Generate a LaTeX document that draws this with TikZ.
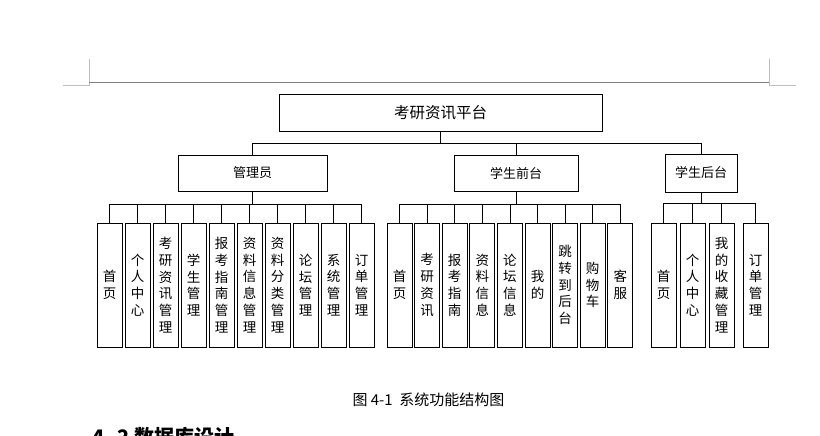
\documentclass[tikz,border=0pt]{standalone}
\usepackage{fontspec}
\setmainfont{Liberation Sans}
\newfontfamily\cjk{Noto Sans CJK SC}

\begin{document}
\begin{tikzpicture}[x=1pt,y=-1pt,
  box/.style={draw,line width=0.8pt,inner sep=0pt,font=\cjk\fontsize{13}{15}\selectfont},
  leaf/.style={draw,line width=0.8pt,minimum width=25pt,minimum height=124pt,
    inner sep=0pt,align=center,font=\cjk\fontsize{13.5}{16.7}\selectfont},
  link/.style={line width=0.8pt}]
  \useasboundingbox (0,0) rectangle (820,436);
  \clip (0,0) rectangle (820,436);

  % page header line and corner marks
  \draw[gray!50,line width=0.6pt] (63,85) -- (89,85) -- (89,59);
  \draw[gray!50,line width=0.6pt] (769,59) -- (769,85) -- (796,85);
  \draw[gray,line width=0.8pt] (89,82) -- (769,82);

  % top levels
  \node[box,minimum width=323pt,minimum height=37pt,font=\cjk\fontsize{15.5}{17}\selectfont]
    (root) at (440.5,112.5) {考研资讯平台};
  \node[box,minimum width=149pt,minimum height=36pt] (admin) at (252.5,173) {管理员};
  \node[box,minimum width=124pt,minimum height=36pt] (front) at (516,173) {学生前台};
  \node[box,minimum width=72pt,minimum height=38pt] (back) at (701,173) {学生后台};

  \draw[link] (admin.north) -- ++(0,-11) -| (root.south);
  \draw[link] (front.north) -- ++(0,-11) -| (root.south);
  \draw[link] (back.north) -- ++(0,-10) -| (root.south);

  % admin leaves
  \foreach \t [count=\i] in {首\\页, 个\\人\\中\\心, 考\\研\\资\\讯\\管\\理, 学\\生\\管\\理,
      报\\考\\指\\南\\管\\理, 资\\料\\信\\息\\管\\理, 资\\料\\分\\类\\管\\理,
      论\\坛\\管\\理, 系\\统\\管\\理, 订\\单\\管\\理} {
    \node[leaf] (a\i) at ({109.5+28*(\i-1)},285) {\t};
    \draw[link] (a\i.north) -- ++(0,-18) -| (admin.south);
  }

  % front leaves
  \foreach \t [count=\i] in {首\\页, 考\\研\\资\\讯, 报\\考\\指\\南, 资\\料\\信\\息,
      论\\坛\\信\\息, 我\\的, 跳\\转\\到\\后\\台, 购\\物\\车, 客\\服} {
    \node[leaf] (f\i) at ({399.5+27.6*(\i-1)},285) {\t};
    \draw[link] (f\i.north) -- ++(0,-18) -| (front.south);
  }

  % back leaves
  \foreach \x/\t [count=\i] in {663.5/首\\页, 692.5/个\\人\\中\\心,
      721.5/我\\的\\收\\藏\\管\\理, 755.5/订\\单\\管\\理} {
    \node[leaf] (b\i) at (\x,285) {\t};
    \draw[link] (b\i.north) -- ++(0,-19) -| (back.south);
  }

  % caption and next heading
  \node[font=\cjk\fontsize{15}{17}\selectfont] (cap) at (428.5,400) {图 4-1\ \ 系统功能结构图};
  \node[anchor=west,font=\cjk\bfseries\fontsize{20}{22}\selectfont,inner sep=0pt]
    (sec) at (92,437) {4. 2 数据库设计};
\end{tikzpicture}
\end{document}
